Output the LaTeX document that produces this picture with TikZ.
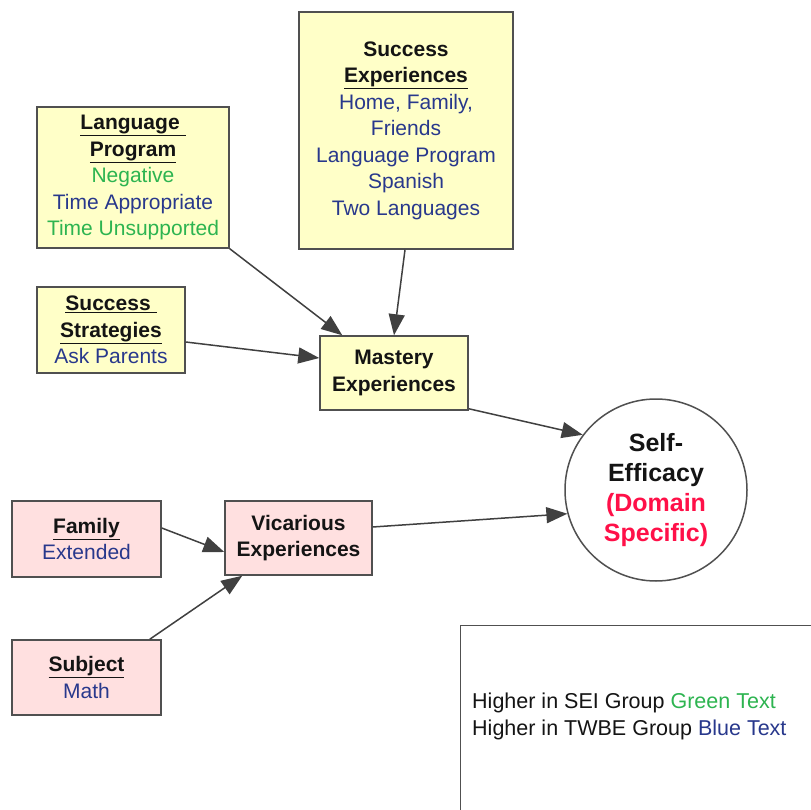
\documentclass[tikz,border=0pt]{standalone}
\usepackage{fontspec}
\setmainfont{Liberation Sans}
\usetikzlibrary{arrows.meta}
\definecolor{ink}{RGB}{20,20,20}
\definecolor{txtgreen}{RGB}{45,180,80}
\definecolor{txtblue}{RGB}{40,56,140}
\definecolor{txtred}{RGB}{255,16,72}
\definecolor{boxyellow}{RGB}{255,255,200}
\definecolor{boxpink}{RGB}{255,224,224}
\definecolor{edgegray}{RGB}{80,80,80}
\definecolor{arrowgray}{RGB}{64,64,64}
\newcommand{\grn}[1]{\textcolor{txtgreen}{#1}}
\newcommand{\blu}[1]{\textcolor{txtblue}{#1}}
\newcommand{\hdr}[1]{\textbf{\underline{#1}}}
\begin{document}
\begin{tikzpicture}[x=1pt,y=-1pt,
  box/.style={draw=edgegray, line width=1.5pt, inner sep=0pt, align=center,
              text=ink, font=\fontsize{21}{26.5}\selectfont},
  ybox/.style={box, fill=boxyellow},
  pbox/.style={box, fill=boxpink},
  link/.style={draw=arrowgray, line width=1.5pt,
               -{Triangle[length=21pt,width=16pt]}}]
\clip (0,0) rectangle (811,810);
\fill[white] (0,0) rectangle (811,810);

% source boxes feeding mastery experiences
\node[ybox, minimum width=192pt, minimum height=141pt] (lang) at (133,177.5)
  {\hdr{Language\ }\\\hdr{Program}\\\grn{Negative}\\\blu{Time Appropriate}\\\grn{Time Unsupported}};
\node[ybox, minimum width=214pt, minimum height=237pt] (succ) at (406,130.5)
  {\textbf{Success}\\\hdr{Experiences}\\\blu{Home, Family,}\\\blu{Friends}\\\blu{Language Program}\\\blu{Spanish}\\\blu{Two Languages}};
\node[ybox, minimum width=148pt, minimum height=86pt] (strat) at (111,330)
  {\hdr{Success\ }\\\hdr{Strategies}\\\blu{Ask Parents}};
\node[ybox, minimum width=148pt, minimum height=74pt] (mast) at (394,373)
  {\textbf{Mastery}\\\textbf{Experiences}};

% vicarious branch
\node[pbox, minimum width=149pt, minimum height=76pt] (fam) at (86.5,539)
  {\hdr{Family}\\\blu{Extended}};
\node[pbox, minimum width=147pt, minimum height=74pt] (vic) at (298.5,538)
  {\textbf{Vicarious}\\\textbf{Experiences}};
\node[pbox, minimum width=149pt, minimum height=75pt] (subj) at (86.5,677.5)
  {\hdr{Subject}\\\blu{Math}};

% outcome
\node[circle, draw=edgegray, line width=1.5pt, fill=white, minimum size=182pt,
      inner sep=0pt, align=center, text=ink,
      font=\fontsize{25}{30}\selectfont\bfseries] (self) at (656,490)
  {Self-\\Efficacy\\\textcolor{txtred}{(Domain}\\\textcolor{txtred}{Specific)}};

% legend
\node[draw=edgegray, line width=1.2pt, anchor=north west, minimum width=420pt,
      minimum height=260pt] (legend) at (460,625) {};
\node[anchor=west, align=left, inner sep=0pt, text=ink,
      font=\fontsize{21.5}{27}\selectfont] (key) at (472,716.5)
  {Higher in SEI Group \grn{Green Text}\\Higher in TWBE Group \blu{Blue Text}};

% connectors
\draw[link] (lang.south east) -- ([xshift=23pt]mast.north west);
\draw[link] ([xshift=-1pt]succ.south) -- (mast.north);
\draw[link] ([yshift=-12pt]strat.east) -- ([yshift=15pt]mast.west);
\draw[link] ([yshift=2pt]mast.south east) -- (self.143);
\draw[link] ([yshift=11pt]vic.east) -- (self.195);
\draw[link] ([yshift=11pt]fam.east) -- ([yshift=-14pt]vic.west);
\draw[link] ([xshift=-12pt]subj.north east) -- ([xshift=18pt]vic.south west);
\end{tikzpicture}
\end{document}
